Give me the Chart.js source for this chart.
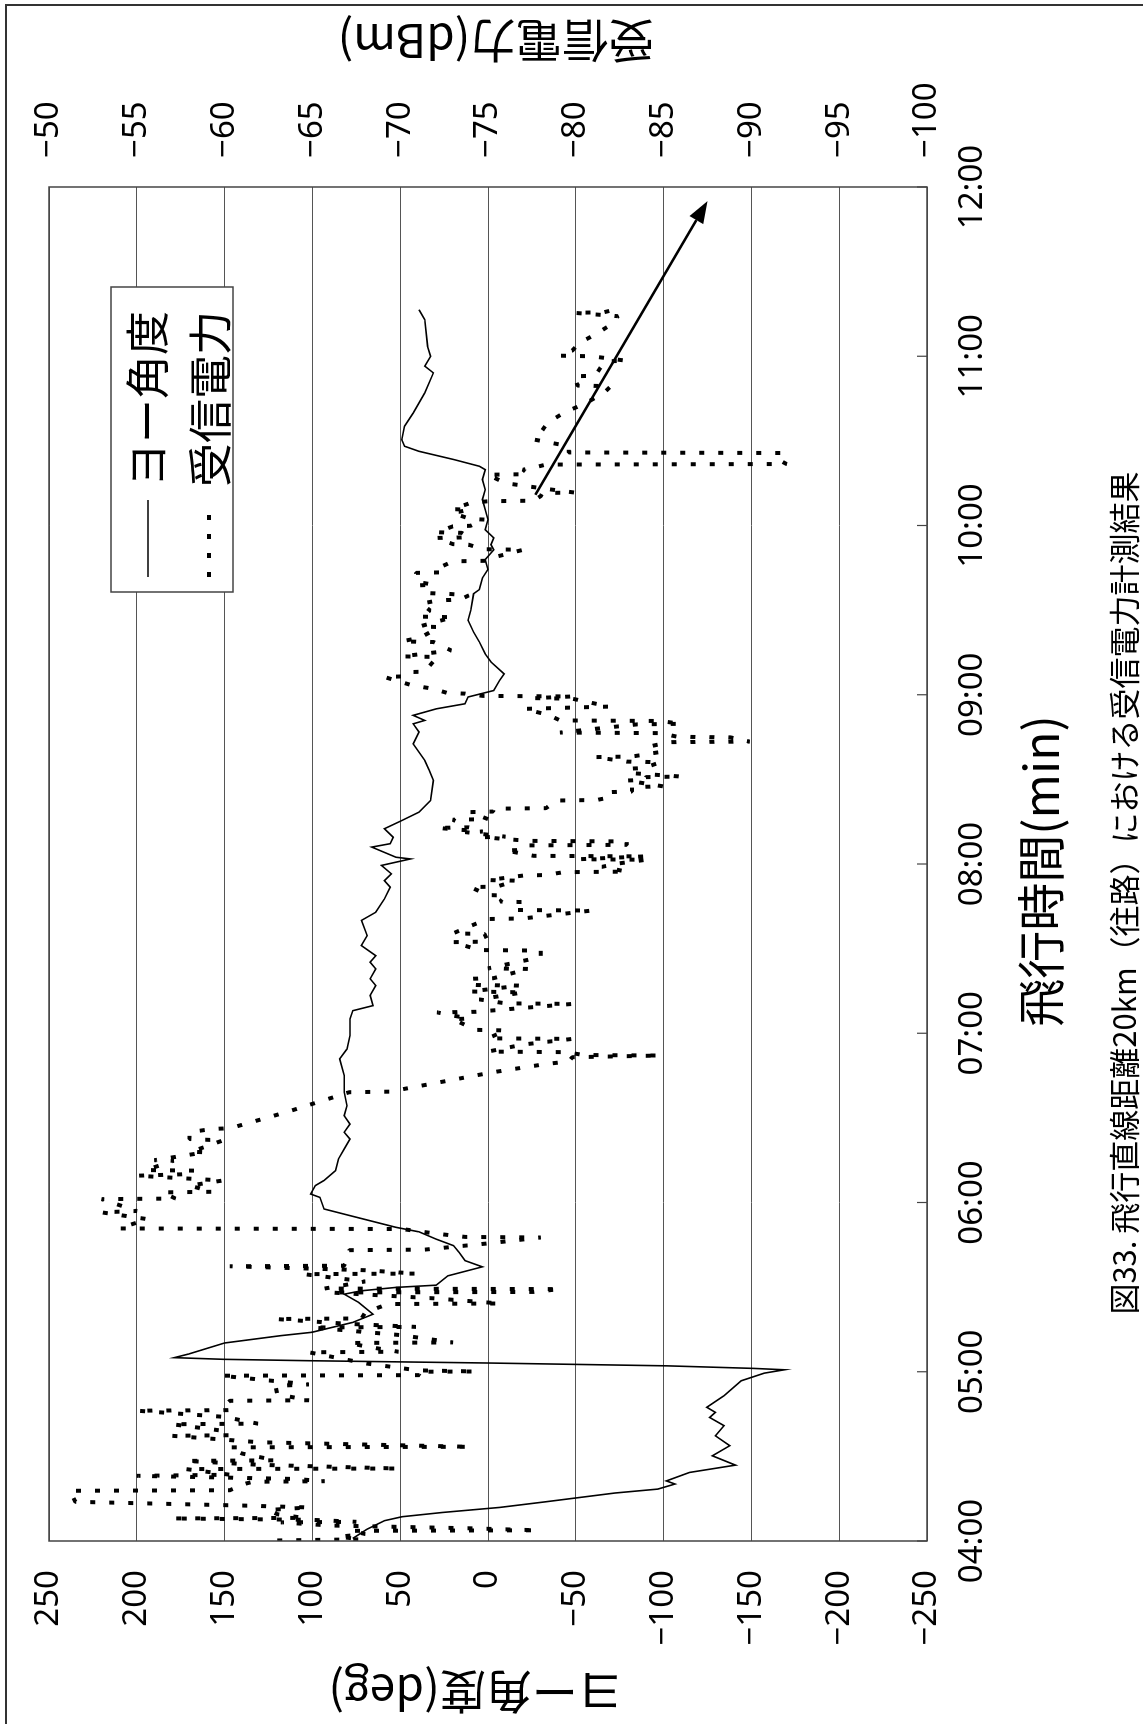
<!DOCTYPE html>
<html lang="ja">
<head>
<meta charset="utf-8">
<title>飛行直線距離20km(往路)における受信電力計測結果</title>
<script src="https://cdn.jsdelivr.net/npm/chart.js@4.4.1/dist/chart.umd.min.js"></script>
<style>
  html, body { margin: 0; padding: 0; background: #fff; width: 1143px; height: 1724px; overflow: hidden; }
  /* the chart is laid out landscape and turned a quarter turn to stand upright on the page */
  #sheet { position: absolute; left: 0; top: 0; width: 1724px; height: 1143px;
           transform-origin: 0 0; transform: translate(0, 1724px) rotate(-90deg); }
  canvas { display: block; }
</style>
</head>
<body>
<div id="sheet"><canvas id="chart" width="1724" height="1143"></canvas></div>
<script>
// ---- data ------------------------------------------------------------
const seriesNames = ['ヨー角度', '受信電力'];

// flight time in minutes after midnight (04:00 = 240)
const yawMin = [240.9, 244.2, 247.2, 248.6, 250.1, 251.9, 253.9, 257.0, 258.4, 260.2, 261.3, 264.3, 266.9, 270.2, 273.8, 277.3,
  280.9, 283.8, 285.6, 287.4, 291.5, 296.8, 299.5, 300.7, 301.2, 302.1, 303.1, 303.9, 304.4, 305.0, 306.3, 310.2, 312.8, 314.0,
  317.5, 320.4, 324.6, 327.5, 328.7, 329.9, 330.7, 334.0, 337.2, 339.4, 342.3, 344.7, 347.0, 349.6, 351.2, 355.1, 357.7, 361.8,
  363.0, 366.0, 367.8, 371.3, 375.4, 379.0, 382.5, 384.9, 387.8, 390.8, 394.3, 399.1, 405.0, 410.9, 414.4, 419.2, 425.1, 428.0,
  429.8, 433.4, 436.9, 439.3, 442.8, 445.2, 447.5, 451.1, 454.6, 460.0, 462.9, 467.6, 471.8, 474.1, 476.5, 479.5, 481.8, 482.4,
  486.0, 487.2, 489.5, 492.5, 495.4, 498.4, 502.5, 509.6, 513.2, 516.7, 522.6, 526.8, 529.7, 530.9, 532.7, 535.0, 536.8, 539.2,
  541.5, 545.1, 547.4, 551.6, 554.5, 558.7, 562.2, 566.4, 569.9, 575.8, 577.3, 581.4, 584.4, 587.9, 591.4, 593.2, 595.6, 598.5,
  602.1, 605.6, 609.2, 612.7, 616.3, 619.8, 621.0, 623.4, 626.3, 628.1, 630.4, 635.2, 639.9, 647.0, 654.1, 656.5, 660.0, 663.5,
  673.0, 676.5];
const yawDeg = [77, 68.8, 59, 49, 26.2, -6.6, -32.8, -72.1, -96.7, -106.5, -101.6, -114.7, -140.9, -127.8, -137.7, -129.5,
  -134.4, -126.2, -129.5, -124.6, -134.4, -144.2, -157.3, -168.8, -150.8, -101.6, 0, 100.2, 150, 178.6, 170.4, 150, 117.9, 100.2,
  77, 65.5, 73.7, 81.9, 72.1, 52.4, 29.5, 22.9, 3.2, 13.1, 16.4, 19.6, 29.5, 39.3, 52.4, 77, 93.4, 95.7,
  101, 98.3, 93.4, 86.8, 85.2, 81.9, 78.6, 81.9, 78.6, 81.9, 80.3, 81.9, 81.9, 84.5, 80.3, 78.6, 78.6, 77,
  65.5, 67.1, 63.9, 67.1, 63.9, 67.1, 63.9, 72.1, 68.8, 72.1, 63.9, 59, 55.7, 59, 55, 60.6, 44.2, 52.4,
  66.2, 55.7, 54, 59, 49.1, 39.3, 32.7, 31.1, 33.4, 36, 42.6, 39.3, 42.6, 36, 42.6, 29.5, 13.1, 11.4,
  -3.3, -6.6, -9.2, -1.7, 1.6, 4.9, 8.2, 11.4, 9.8, 8.2, 4.9, 3.2, 0, 1.6, -3.3, -1.7, -3.3, 1.6,
  0, 1.6, 3.2, 1.6, 3.2, 1.6, 4.9, 19.6, 39.3, 47.5, 49.1, 47.5, 42.6, 36, 31.1, 36, 32.7, 34.4,
  36, 39.3];

const pwrMin = [240.2, 240.6, 241.5, 242.5, 243.6, 243.8, 244.5, 245.5, 246.6, 246.8, 247.5, 248.0, 248.2, 249.5, 251.0, 251.9,
  252.5, 253.9, 257.8, 258.0, 260.0, 261.0, 261.2, 262.0, 263.1, 263.5, 265.5, 265.7, 267.0, 268.4, 268.6, 271.0, 273.2, 273.4,
  275.0, 277.3, 277.5, 279.0, 281.4, 281.6, 284.0, 286.2, 286.4, 288.0, 289.7, 289.9, 292.0, 295.0, 295.5, 298.6, 298.8, 300.0,
  300.1, 300.5, 303.0, 306.9, 307.1, 309.0, 310.2, 310.4, 313.0, 315.7, 315.9, 317.0, 318.7, 318.9, 321.0, 324.0, 324.2, 326.0,
  328.1, 328.3, 329.3, 329.5, 332.0, 334.6, 334.8, 336.0, 337.4, 337.6, 340.0, 343.1, 343.3, 345.5, 347.6, 347.8, 349.0, 350.6,
  350.8, 354.1, 356.5, 357.0, 361.2, 361.4,
  363.6, 363.8, 366.0, 367.8, 369.5, 370.0, 371.3, 371.5, 374.8, 375.0, 377.8, 378.0, 382.0, 382.5, 384.9, 386.1, 386.3, 392.0,
  399.1, 399.3, 406.2, 409.1, 410.0, 411.5, 412.1, 412.3, 413.3, 413.5, 416.0, 418.0, 418.2, 421.0, 421.2, 425.0, 425.2, 427.4,
  427.6, 430.4, 430.6, 432.0, 434.5, 434.8, 436.9, 437.1, 439.3, 439.5, 442.8, 443.0, 447.0, 449.3, 449.5, 452.3, 452.5, 455.2,
  455.4, 458.8, 460.5, 460.7, 463.5, 463.7, 466.5, 466.7, 468.8, 469.0, 471.8, 472.0, 474.1, 474.3,
  475.9, 476.1, 477.1, 477.3, 479.0, 480.0, 481.5, 481.7, 482.7, 482.9, 484.8, 485.0, 486.6, 486.8, 488.0, 488.2, 489.5, 489.7,
  491.3, 491.5, 492.8, 493.0, 495.7, 495.9, 498.4, 498.6, 499.6, 499.8, 502.5, 502.7, 503.7, 505.5, 505.7, 507.3, 507.5, 509.6,
  509.8, 510.8, 511.0, 512.2, 513.8, 514.0, 516.1, 516.3, 517.9, 518.1, 519.7, 521.8, 523.2, 523.4, 524.9, 525.1, 526.4, 526.6,
  529.5, 529.7, 530.7, 530.9, 532.7, 535.0, 535.2, 535.6, 535.8, 538.6, 538.8, 539.4, 539.6, 540.4, 540.6, 542.1, 543.3, 546.3,
  546.5, 548.0, 548.2, 553.4, 553.6, 555.7, 558.7, 558.9, 560.4, 564.0, 564.2, 567.5, 567.7, 569.9, 572.3, 573.5, 573.7, 575.2,
  575.8, 576.0, 578.8, 579.0,
  580.0, 581.5, 583.2, 583.4, 585.0, 587.3, 587.5, 589.0, 591.4, 591.6, 593.2, 593.4, 595.6, 595.8, 597.4, 597.6, 599.7, 599.9,
  602.1, 602.3, 604.4, 605.6, 605.8, 608.0, 608.6, 608.8, 610.4, 611.5, 611.7, 613.0, 615.0, 618.0, 618.2, 619.8, 620.5, 621.6,
  621.8, 623.5, 625.7, 625.9, 628.1, 629.3, 630.5, 633.0, 636.4, 639.9, 643.5, 647.0, 649.4, 649.6, 652.9, 653.1, 655.9, 658.2,
  658.4, 660.0, 660.2, 661.2, 662.0, 664.7, 667.7, 671.2, 674.2, 675.4, 675.6, 676.5];
const pwrDbm = [-63.0, -67.8, -66.5, -68.0, -67.2, -77.8, -74.0, -66.0, -63.2, -67.5, -65.0, -57.0, -64.5, -63.0, -62.5, -64.8,
  -61.5, -51.5, -51.2, -60.3, -61.0, -61.6, -65.7, -64.0, -55.0, -60.3, -57.8, -69.9, -62.0, -57.8, -62.9, -61.0, -60.3, -74.0,
  -62.0, -57.0, -60.3, -60.0, -57.0, -61.9, -60.0, -55.0, -60.3, -60.0, -60.3, -64.8, -63.0, -62.9, -64.8, -59.8, -71.1, -71.0,
  -74.3, -71.0, -68.0, -64.8, -69.9, -68.0, -67.1, -73.0, -70.0, -65.0, -70.9, -67.0, -62.9, -67.8, -68.0, -69.3, -75.7, -72.0,
  -66.0, -77.6, -79.1, -65.7, -68.0, -64.5, -70.9, -68.0, -60.3, -66.8, -67.0, -67.1, -71.4, -75.0, -78.0, -73.7, -72.0, -70.1,
  -54.0, -55.6, -53.0, -55.0, -53.0, -57.2,
  -56.5, -59.3, -58.0, -59.9, -55.0, -57.6, -58.3, -55.5, -57.1, -56.0, -58.9, -58.1, -59.9, -58.0, -58.0, -59.3, -60.3, -63.5,
  -67.1, -69.4, -75.3, -78.3, -79.6, -79.8, -84.8, -80.4, -79.5, -75.0, -77.0, -79.8, -75.0, -76.0, -74.3, -73.0, -73.9, -72.1,
  -74.3, -79.8, -76.0, -74.5, -77.0, -74.0, -76.8, -74.3, -73.9, -75.3, -77.3, -75.0, -78.0, -78.0, -74.5, -73.0, -75.0, -74.8,
  -73.0, -74.3, -75.0, -77.0, -80.9, -76.6, -77.0, -75.7, -76.0, -75.0, -74.0, -75.5, -76.6, -75.0,
  -77.0, -78.3, -79.3, -82.9, -81.5, -82.2, -84.0, -80.2, -83.9, -77.6, -76.0, -77.0, -77.3, -82.9, -82.9, -77.3, -74.7, -76.0,
  -73.7, -74.7, -72.1, -73.9, -73.0, -75.0, -74.0, -75.3, -75.3, -78.3, -78.9, -81.2, -82.0, -82.0, -83.2, -83.2, -85.0, -82.9,
  -83.9, -84.0, -86.0, -83.2, -83.0, -83.9, -84.8, -82.9, -81.1, -83.2, -84.8, -84.3, -85.3, -89.9, -88.8, -85.8, -84.8, -79.1,
  -83.5, -86.0, -84.8, -79.1, -78.5, -77.1, -78.3, -80.6, -81.9, -79.8, -77.6, -79.8, -74.7, -73.7, -72.7, -71.9, -70.7, -69.1,
  -70.1, -70.4, -71.4, -72.1, -70.1, -72.9, -71.9, -70.1, -71.2, -72.2, -71.1, -73.0, -71.1, -71.7, -71.2, -72.2, -73.4, -73.9,
  -72.7, -71.7, -71.1, -71.9,
  -71.0, -70.9, -70.9, -72.4, -72.2, -73.0, -75.0, -75.5, -77.0, -74.7, -73.9, -73.0, -72.1, -73.9, -73.5, -72.1, -73.0, -74.0,
  -74.8, -74.0, -73.0, -73.9, -73.0, -74.0, -75.0, -77.6, -78.0, -78.1, -79.9, -78.3, -76.0, -75.0, -77.3, -77.0, -77.6, -78.3,
  -92.0, -91.5, -91.7, -79.6, -79.6, -78.6, -77.6, -78.0, -78.4, -79.3, -80.6, -81.6, -82.0, -80.1, -79.9, -81.1, -81.4, -81.7,
  -82.9, -80.9, -79.1, -79.3, -79.8, -80.2, -81.1, -82.0, -82.4, -79.9, -81.6, -82.2];

// trend arrow drawn over the received-power trace: [minutes, dBm]
const arrowFrom = [610.9, -77.7];
const arrowTo = [715.0, -87.5];

// tick labels
const timeTickValues = [240, 300, 360, 420, 480, 540, 600, 660, 720];
const timeTickLabels = ['04:00', '05:00', '06:00', '07:00', '08:00', '09:00', '10:00', '11:00', '12:00'];

// texts
const yawTitle = 'ヨー角度(deg)';
const pwrTitle = '受信電力(dBm)';
const timeTitle = '飛行時間(min)';
const caption = '図33. 飛行直線距離20km（往路）における受信電力計測結果';

// ---- layout ----------------------------------------------------------
const W = 1724, H = 1143;
const AREA = { left: 183, right: 1537, top: 49, bottom: 927 };
const NUM_FONT = { family: "'Noto Sans', 'DejaVu Sans', sans-serif", size: 33 };
const JP = "'Noto Sans CJK JP', 'Noto Sans', sans-serif";
const minus = s => String(s).replace('-', '\u2212');

const decorations = {
  id: 'decorations',
  afterDatasetsDraw(chart) {
    const { ctx, chartArea: a, scales } = chart;
    ctx.save();

    // plot frame
    ctx.strokeStyle = '#444';
    ctx.lineWidth = 1.5;
    ctx.strokeRect(a.left, a.top, a.right - a.left, a.bottom - a.top);

    // inward time ticks
    ctx.strokeStyle = '#444';
    ctx.lineWidth = 1.2;
    timeTickValues.forEach(v => {
      const px = scales.x.getPixelForValue(v);
      ctx.beginPath();
      ctx.moveTo(px, a.bottom);
      ctx.lineTo(px, a.bottom - 10);
      ctx.stroke();
    });

    // page frame
    ctx.strokeStyle = '#333';
    ctx.lineWidth = 2;
    ctx.beginPath();
    ctx.moveTo(0, 6);
    ctx.lineTo(W - 5, 6);
    ctx.lineTo(W - 5, H);
    ctx.stroke();

    // trend arrow
    const x0 = scales.x.getPixelForValue(arrowFrom[0]), y0 = scales.y2.getPixelForValue(arrowFrom[1]);
    const x1 = scales.x.getPixelForValue(arrowTo[0]), y1 = scales.y2.getPixelForValue(arrowTo[1]);
    const ang = Math.atan2(y1 - y0, x1 - x0);
    const headLen = 22, headHalf = 8;
    const bx = x1 - headLen * Math.cos(ang), by = y1 - headLen * Math.sin(ang);
    ctx.strokeStyle = '#000';
    ctx.fillStyle = '#000';
    ctx.lineWidth = 2.5;
    ctx.beginPath();
    ctx.moveTo(x0, y0);
    ctx.lineTo(bx, by);
    ctx.stroke();
    ctx.beginPath();
    ctx.moveTo(x1, y1);
    ctx.lineTo(bx + headHalf * Math.sin(ang), by - headHalf * Math.cos(ang));
    ctx.lineTo(bx - headHalf * Math.sin(ang), by + headHalf * Math.cos(ang));
    ctx.closePath();
    ctx.fill();

    // legend
    const lg = { x: 1132, y: 111, w: 305, h: 122 };
    ctx.fillStyle = '#fff';
    ctx.fillRect(lg.x, lg.y, lg.w, lg.h);
    ctx.strokeStyle = '#444';
    ctx.lineWidth = 1.5;
    ctx.strokeRect(lg.x, lg.y, lg.w, lg.h);
    const ds = chart.data.datasets;
    ctx.strokeStyle = '#000';
    ctx.lineWidth = ds[0].borderWidth;
    ctx.beginPath(); ctx.moveTo(1147, 148); ctx.lineTo(1224, 148); ctx.stroke();
    ctx.lineWidth = ds[1].borderWidth;
    ctx.setLineDash(ds[1].borderDash);
    ctx.beginPath(); ctx.moveTo(1147, 209); ctx.lineTo(1216, 209); ctx.stroke();
    ctx.setLineDash([]);
    ctx.fillStyle = '#000';
    ctx.font = `44px ${JP}`;
    ctx.textAlign = 'left';
    ctx.textBaseline = 'middle';
    ctx.fillText(ds[0].label, 1237, 147);
    ctx.fillText(ds[1].label, 1237, 210);

    // axis titles (both side titles read upward)
    ctx.font = `46px ${JP}`;
    ctx.textAlign = 'center';
    ctx.textBaseline = 'middle';
    ctx.save();
    ctx.translate(32, 476);
    ctx.rotate(-Math.PI / 2);
    ctx.fillText(yawTitle, 0, 0);
    ctx.restore();
    ctx.save();
    ctx.translate(1683, 496);
    ctx.rotate(-Math.PI / 2);
    ctx.fillText(pwrTitle, 0, 0);
    ctx.restore();

    ctx.font = `48px ${JP}`;
    ctx.fillText(timeTitle, 853, 1041);

    ctx.font = `31px ${JP}`;
    ctx.fillText(caption, 831, 1124);

    ctx.restore();
  }
};

new Chart(document.getElementById('chart'), {
  type: 'line',
  data: {
    datasets: [
      {
        label: seriesNames[0],
        data: yawMin.map((t, i) => ({ x: t, y: yawDeg[i] })),
        yAxisID: 'y',
        borderColor: '#000',
        borderWidth: 1.6,
        pointRadius: 0,
        tension: 0,
        fill: false
      },
      {
        label: seriesNames[1],
        data: pwrMin.map((t, i) => ({ x: t, y: pwrDbm[i] })),
        yAxisID: 'y2',
        borderColor: '#000',
        borderWidth: 4,
        borderDash: [5, 14],
        borderCapStyle: 'butt',
        borderJoinStyle: 'bevel',
        pointRadius: 0,
        tension: 0,
        fill: false
      }
    ]
  },
  options: {
    responsive: false,
    animation: false,
    devicePixelRatio: 1,
    layout: { padding: { top: AREA.top, left: 0, right: 0, bottom: 0 } },
    plugins: { legend: { display: false }, tooltip: { enabled: false } },
    scales: {
      x: {
        type: 'linear',
        position: 'bottom',
        min: 240,
        max: 720,
        afterBuildTicks: s => { s.ticks = timeTickValues.map(v => ({ value: v })); },
        ticks: {
          callback: v => timeTickLabels[timeTickValues.indexOf(v)],
          font: NUM_FONT,
          color: '#000',
          padding: 26,
          maxRotation: 0,
          autoSkip: false
        },
        grid: { display: false, drawTicks: false },
        border: { display: false },
        afterFit: s => { s.height = H - AREA.bottom; }
      },
      y: {
        position: 'left',
        min: -250,
        max: 250,
        ticks: { stepSize: 50, callback: v => minus(v), font: NUM_FONT, color: '#000', padding: 29 },
        grid: { color: '#555', lineWidth: 1, drawTicks: false },
        border: { display: false },
        afterFit: s => { s.width = AREA.left; }
      },
      y2: {
        position: 'right',
        min: -100,
        max: -50,
        ticks: { stepSize: 5, callback: v => minus(v), font: NUM_FONT, color: '#000', padding: 29 },
        grid: { display: false, drawTicks: false },
        border: { display: false },
        afterFit: s => { s.width = W - AREA.right; }
      }
    }
  },
  plugins: [decorations]
});
</script>
</body>
</html>
